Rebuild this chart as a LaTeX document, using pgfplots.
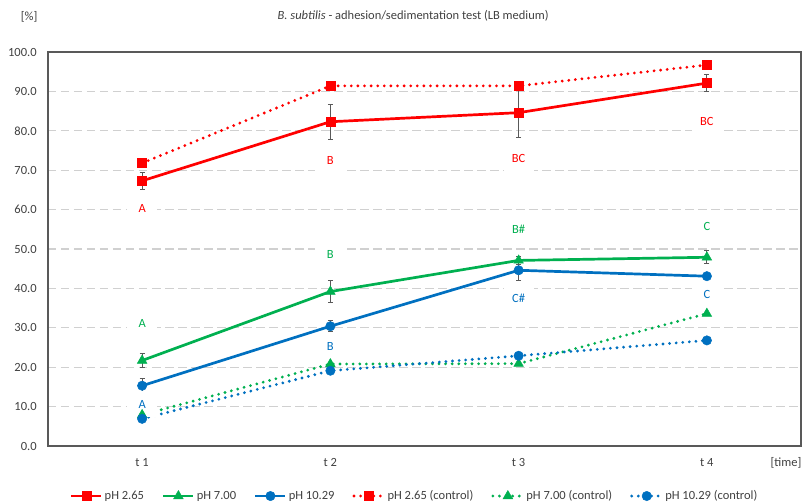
\documentclass[border=0pt]{standalone}
\usepackage{fontspec}
\setmainfont{Carlito}
\usepackage{pgfplots}
\pgfplotsset{compat=1.18}
\usepackage{pgfplotstable}

\definecolor{cred}{HTML}{FF0000}
\definecolor{cgreen}{HTML}{00B050}
\definecolor{cblue}{HTML}{0070C0}
\definecolor{gridgray}{HTML}{D0D0D0}
\definecolor{boxgray}{HTML}{595959}
\definecolor{txtgray}{HTML}{404040}

% measured series: x, mean, error
\pgfplotstableread{
x y e
1 67.3 2.1
2 82.3 4.5
3 84.6 6.3
4 92.1 2.2
}\phlow
\pgfplotstableread{
x y e
1 21.7 1.8
2 39.2 2.8
3 47.1 1.0
4 47.9 1.7
}\phmid
\pgfplotstableread{
x y e
1 15.3 1.8
2 30.4 1.4
3 44.6 2.6
4 43.1 0.5
}\phhigh
% controls
\pgfplotstableread{
x y
1 71.8
2 91.4
3 91.4
4 96.7
}\ctlow
\pgfplotstableread{
x y
1 7.9
2 20.8
3 20.9
4 33.6
}\ctmid
\pgfplotstableread{
x y
1 6.9
2 19.1
3 22.9
4 26.8
}\cthigh
% letter labels
\pgfplotstableread{
x y l
1 60.2 A
2 72.5 B
3 73.0 BC
4 82.4 BC
}\labred
\pgfplotstableread{
x y l
1 31.0 A
2 48.6 B
3 55.1 B\#
4 55.8 C
}\labgreen
\pgfplotstableread{
x y l
1 10.6 A
2 25.2 B
3 37.5 C\#
4 38.5 C
}\labblue

\pgfplotsset{
  errs/.style={error bars/.cd, y dir=both, y explicit,
    error bar style={line width=1bp, boxgray, solid},
    error mark options={rotate=90, mark size=2.6bp, line width=1bp, boxgray}},
  lab/.style={mark=none, draw=none, forget plot, nodes near coords,
    point meta=explicit symbolic,
    nodes near coords style={anchor=center, fill=white, text=#1,
      minimum width=30bp, minimum height=26bp, inner sep=0pt}},
  ctl/.style={line width=3.1bp, line cap=round, dash pattern=on 0bp off 6.6bp},
}

\begin{document}
\fontsize{12.5bp}{15bp}\selectfont
\begin{tikzpicture}
\path[use as bounding box] (-48bp,-58bp) rectangle (760bp,446bp);
\begin{axis}[
  at={(0,0)}, anchor=south west,
  scale only axis, width=753bp, height=394bp,
  xmin=0.5, xmax=4.5, ymin=0, ymax=100,
  xtick={1,2,3,4}, xticklabels={t 1,t 2,t 3,t 4},
  ytick={0,10,...,100},
  major tick length=0pt,
  ymajorgrids,
  grid style={gridgray, line width=1.3bp, dash pattern=on 8.5bp off 4.5bp},
  axis line style={boxgray, line width=1.2bp},
  ticklabel style={text=txtgray},
  yticklabel style={/pgf/number format/fixed, /pgf/number format/fixed zerofill,
    /pgf/number format/precision=1, /pgf/number format/assume math mode=true, xshift=-7bp},
  xticklabel style={yshift=-8bp},
  title={\textit{B. subtilis} - adhesion/sedimentation test (LB medium)},
  title style={at={(rel axis cs:0.485,1)}, anchor=center, yshift=30bp, text=txtgray},
  xlabel={[time]},
  xlabel style={at={(rel axis cs:0.98,0)}, anchor=center, yshift=-17bp, text=txtgray},
  legend columns=6,
  legend style={at={(rel axis cs:0.487,-0.127)}, anchor=center, draw=none, text=txtgray,
    /tikz/every even column/.append style={column sep=16bp}},
  legend image code/.code={\draw[mark repeat=2,mark phase=2,#1]
    plot coordinates {(0bp,0bp) (15bp,0bp) (30bp,0bp)};},
  clip=false,
]
\node[text=txtgray] at (rel axis cs:-0.025,1) [yshift=35bp] {[\%]};

\addplot[lab=cred] table[x=x, y=y, meta=l] {\labred};
\addplot[lab=cgreen] table[x=x, y=y, meta=l] {\labgreen};
\addplot[lab=cblue] table[x=x, y=y, meta=l] {\labblue};

\addplot[cred, line width=2.7bp, mark=square*, mark size=4.5bp,
  mark options={solid, line width=0.5bp}, errs] table[x=x, y=y, y error=e] {\phlow};
\addlegendentry{pH 2.65}
\addplot[cgreen, line width=2.7bp, mark=triangle*, mark size=5.5bp,
  mark options={solid, line width=0.5bp}, errs] table[x=x, y=y, y error=e] {\phmid};
\addlegendentry{pH 7.00}
\addplot[cblue, line width=2.7bp, mark=*, mark size=4.7bp,
  mark options={solid, line width=0.5bp}, errs] table[x=x, y=y, y error=e] {\phhigh};
\addlegendentry{pH 10.29}

\addplot[cred, ctl, mark=square*, mark size=4.5bp,
  mark options={solid, line width=0.5bp}] table[x=x, y=y] {\ctlow};
\addlegendentry{pH 2.65 (control)}
\addplot[cgreen, ctl, mark=triangle*, mark size=5.5bp,
  mark options={solid, line width=0.5bp}] table[x=x, y=y] {\ctmid};
\addlegendentry{pH 7.00 (control)}
\addplot[cblue, ctl, mark=*, mark size=4.7bp,
  mark options={solid, line width=0.5bp}] table[x=x, y=y] {\cthigh};
\addlegendentry{pH 10.29 (control)}
\end{axis}
\end{tikzpicture}
\end{document}
